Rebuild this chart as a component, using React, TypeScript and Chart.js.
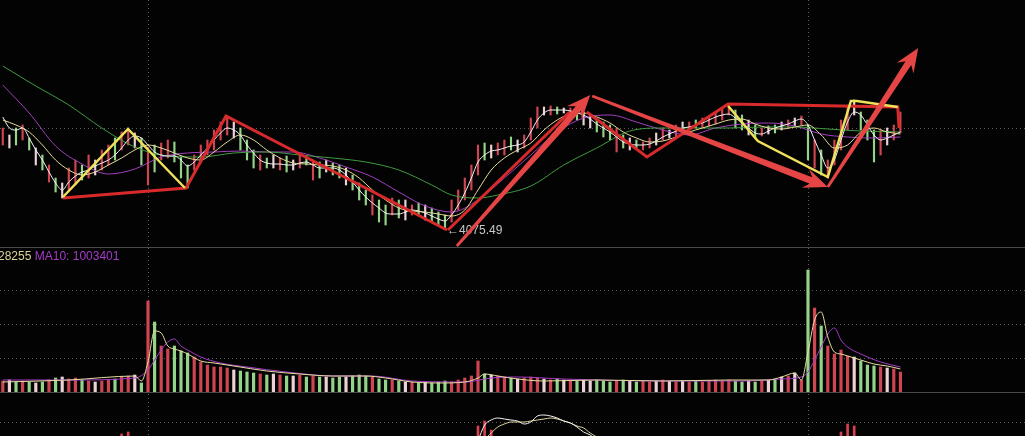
import React, { useEffect, useRef } from "react";
import { Chart, registerables } from "chart.js";

Chart.register(...registerables);

// ---------- DATA ----------
// bar index 0..136 (one per trading day)
const colorCodes =
  "rwgrgwgrgw" + "rrgrwrrgrr" + "wgrgrrgggr" + "rrrrrwgggr" + "gwrgwrgrgw" +
  "ggwgggrggr" + "gwrgwgggrr" + "rrrgwrrgwr" + "rrwrgwrgww" + "gggrgwgrrw" +
  "rwrwrgrrrr" + "rggwgrwgwr" + "wrgrgrrrrw" + "gggrwrr";

const highs = [
  4277, 4263, 4277, 4283, 4257, 4237, 4223, 4203, 4177, 4167,
  4197, 4213, 4203, 4223, 4213, 4233, 4243, 4257, 4269, 4277,
  4267, 4257, 4239, 4243, 4247, 4253, 4249, 4219, 4203, 4223,
  4243, 4253, 4273, 4289, 4297, 4289, 4277, 4253, 4233, 4223,
  4217, 4223, 4217, 4221, 4213, 4223, 4221, 4213, 4209, 4213,
  4207, 4203, 4197, 4183, 4167, 4153, 4143, 4133, 4123, 4137,
  4133, 4133, 4123, 4127, 4123, 4117, 4109, 4103, 4133, 4153,
  4177, 4203, 4243, 4247, 4243, 4247, 4253, 4259, 4253, 4263,
  4297, 4319, 4319, 4321, 4319, 4317, 4317, 4313, 4309, 4303,
  4293, 4289, 4283, 4277, 4263, 4257, 4253, 4249, 4257, 4267,
  4277, 4273, 4283, 4289, 4289, 4293, 4297, 4301, 4309, 4317,
  4321, 4313, 4303, 4293, 4283, 4277, 4281, 4283, 4289, 4293,
  4297, 4301, 4283, 4253, 4233, 4213, 4253, 4293, 4323, 4333,
  4309, 4293, 4273, 4273, 4277, 4283, 4309,
];

const lows = [
  4243, 4237, 4243, 4253, 4233, 4203, 4193, 4169, 4149, 4137,
  4153, 4163, 4173, 4177, 4183, 4193, 4203, 4213, 4233, 4243,
  4237, 4203, 4163, 4189, 4213, 4217, 4209, 4177, 4157, 4193,
  4209, 4223, 4233, 4253, 4263, 4257, 4233, 4213, 4197, 4193,
  4197, 4197, 4193, 4189, 4193, 4197, 4203, 4173, 4177, 4189,
  4183, 4177, 4163, 4153, 4133, 4123, 4103, 4089, 4083, 4103,
  4097, 4093, 4103, 4103, 4093, 4089, 4083, 4075.49, 4089, 4113,
  4133, 4153, 4183, 4213, 4217, 4223, 4223, 4233, 4229, 4237,
  4253, 4277, 4303, 4303, 4305, 4307, 4303, 4293, 4283, 4277,
  4269, 4259, 4253, 4229, 4237, 4233, 4237, 4233, 4237, 4243,
  4253, 4257, 4259, 4273, 4273, 4277, 4277, 4281, 4285, 4293,
  4303, 4277, 4273, 4263, 4257, 4261, 4265, 4267, 4273, 4277,
  4281, 4283, 4213, 4197, 4183, 4177, 4203, 4233, 4273, 4303,
  4273, 4253, 4209, 4223, 4243, 4253, 4267,
];

const ma5 = [
  4299, 4277, 4273, 4277, 4257, 4233, 4213, 4189, 4167, 4153,
  4169, 4181, 4189, 4193, 4201, 4207, 4213, 4223, 4237, 4253,
  4261, 4257, 4243, 4229, 4223, 4221, 4221, 4213, 4201, 4209,
  4223, 4237, 4253, 4267, 4277, 4273, 4263, 4243, 4227, 4213,
  4207, 4205, 4205, 4203, 4203, 4207, 4209, 4203, 4197, 4197,
  4197, 4193, 4183, 4169, 4153, 4139, 4127, 4117, 4107, 4105,
  4105, 4109, 4113, 4111, 4107, 4101, 4095, 4091, 4103, 4123,
  4147, 4177, 4209, 4223, 4231, 4233, 4237, 4241, 4243, 4249,
  4269, 4293, 4307, 4313, 4313, 4313, 4311, 4307, 4303, 4295,
  4285, 4277, 4269, 4259, 4249, 4245, 4243, 4243, 4245, 4251,
  4259, 4265, 4271, 4277, 4279, 4283, 4287, 4293, 4299, 4303,
  4305, 4297, 4287, 4277, 4267, 4265, 4271, 4277, 4281, 4285,
  4291, 4295, 4283, 4253, 4223, 4197, 4213, 4253, 4289, 4309,
  4303, 4283, 4263, 4253, 4257, 4263, 4269,
];

type Pt = [number, number];

const ma10: Pt[] = [
  [0, 4293], [2, 4283], [4, 4269], [6, 4243], [8, 4213], [10, 4193], [12, 4183], [14, 4189],
  [16, 4203], [18, 4217], [20, 4233], [22, 4243], [24, 4237], [26, 4227], [28, 4217], [30, 4213],
  [32, 4229], [34, 4249], [36, 4263], [38, 4253], [40, 4233], [42, 4217], [44, 4207], [46, 4205],
  [48, 4203], [50, 4201], [52, 4193], [54, 4177], [56, 4153], [58, 4133], [60, 4117], [62, 4111],
  [64, 4109], [66, 4105], [68, 4101], [70, 4113], [72, 4153], [74, 4193], [76, 4217], [78, 4233],
  [80, 4247], [82, 4273], [84, 4293], [86, 4305], [88, 4307], [90, 4299], [92, 4287], [94, 4269],
  [96, 4257], [98, 4249], [100, 4251], [102, 4259], [104, 4269], [106, 4277], [108, 4285], [110, 4293],
  [112, 4295], [114, 4285], [116, 4277], [118, 4275], [120, 4279], [122, 4283], [124, 4263], [126, 4237],
  [128, 4243], [130, 4269], [132, 4277], [134, 4269], [136, 4265],
];

const ma20: Pt[] = [
  [0, 4363], [4, 4307], [8, 4241], [12, 4205], [16, 4185], [20, 4195], [24, 4219], [28, 4227],
  [32, 4229], [36, 4231], [40, 4229], [44, 4229], [48, 4217], [52, 4199], [56, 4179], [60, 4149],
  [64, 4121], [68, 4109], [72, 4133], [76, 4177], [80, 4223], [84, 4269], [88, 4297], [92, 4303],
  [96, 4289], [100, 4273], [104, 4263], [108, 4277], [112, 4285], [116, 4287], [120, 4281], [124, 4265],
  [128, 4259], [132, 4257], [136, 4259],
];

const ma60: Pt[] = [
  [0, 4401], [5, 4361], [10, 4323], [15, 4277], [20, 4239], [25, 4221], [30, 4219], [35, 4227],
  [40, 4229], [45, 4223], [50, 4217], [55, 4209], [60, 4193], [65, 4163], [68, 4143], [72, 4137],
  [75, 4143], [80, 4161], [85, 4203], [90, 4237], [95, 4271], [100, 4277], [105, 4277], [110, 4277],
  [115, 4279], [120, 4279], [125, 4275], [130, 4271], [136, 4269],
];

// hand-drawn trend lines (index, price)
const redLineA: Pt[] = [[9.12, 4137], [27.76, 4157], [33.82, 4301], [67.3, 4073]];
const redLineB: Pt[] = [[67.45, 4073], [85.9, 4309]];
const redLineC: Pt[] = [[88.5, 4309], [97.6, 4219], [109.9, 4325], [135.6, 4319], [135.8, 4277]];
const yellowLine1: Pt[] = [[9.12, 4139], [18.97, 4275], [27.6, 4157]];
const yellowLine2: Pt[] = [[109.9, 4321], [114.4, 4251], [125.0, 4179], [128.5, 4331], [129.4, 4331], [135.6, 4319]];

const arrowFrom: Pt[] = [[68.8, 4041], [89.3, 4341], [125.0, 4159]];
const arrowTo: Pt[] = [[89.0, 4343], [125.0, 4159], [138.7, 4437]];

const lowLabel = "4075.49";

// volume, unit: 10k
const volumes = [
  44, 48, 40, 44, 40, 36, 40, 48, 56, 60,
  52, 56, 48, 44, 40, 44, 48, 52, 60, 64,
  68, 36, 364, 280, 184, 172, 184, 164, 156, 140,
  120, 108, 100, 100, 96, 88, 84, 80, 76, 72,
  68, 72, 68, 64, 64, 68, 60, 64, 60, 60,
  56, 60, 60, 64, 68, 64, 60, 52, 48, 48,
  44, 40, 40, 36, 40, 36, 40, 44, 40, 48,
  56, 64, 124, 72, 68, 64, 60, 56, 52, 56,
  60, 56, 52, 48, 52, 48, 48, 44, 48, 44,
  48, 44, 40, 44, 48, 44, 40, 44, 40, 44,
  48, 44, 40, 44, 40, 44, 40, 44, 48, 44,
  48, 44, 40, 44, 40, 44, 48, 52, 60, 64,
  76, 48, 488, 336, 264, 184, 152, 168, 144, 140,
  124, 108, 104, 100, 96, 92, 80,
];

const volMa5: Pt[] = [
  [0, 40], [10, 48], [20, 64], [21, 44], [22, 120], [23, 244], [24, 236], [25, 184], [26, 172],
  [27, 164], [28, 152], [30, 124], [32, 116], [35, 104], [40, 84], [45, 72], [50, 64], [55, 64],
  [58, 56], [62, 40], [66, 36], [70, 40], [72, 56], [73, 72], [75, 64], [78, 52], [82, 44],
  [90, 48], [100, 44], [110, 48], [116, 48], [118, 60], [120, 76], [121, 48], [122, 160],
  [123, 288], [124, 320], [125, 220], [126, 160], [127, 152], [128, 144], [130, 128], [132, 112],
  [134, 104], [136, 92],
];

const volMa10: Pt[] = [
  [0, 48], [10, 48], [20, 56], [22, 88], [23, 128], [24, 168], [25, 200], [26, 212], [27, 184],
  [28, 168], [30, 140], [33, 116], [37, 100], [43, 80], [50, 64], [56, 64], [62, 44], [70, 40],
  [74, 56], [78, 60], [85, 52], [100, 44], [112, 44], [118, 52], [121, 60], [122, 80], [123, 128],
  [124, 180], [125, 232], [126, 256], [127, 208], [128, 180], [130, 152], [133, 120], [136, 100],
];

// lower indicator panel
const subK: Pt[] = [
  [60, 32], [70, 47], [72, 62], [73, 77], [74, 82], [75, 84], [76, 83], [77, 82], [78, 81],
  [79, 78], [80, 80], [81, 86], [82, 87], [83, 86], [84, 84], [85, 81], [86, 79], [87, 75],
  [88, 70], [89, 67], [90, 62], [94, 42], [105, 32],
];
const subD: Pt[] = [
  [60, 22], [70, 32], [72, 52], [73, 62], [74, 69], [75, 75], [76, 78], [77, 80], [78, 80],
  [79, 80], [80, 81], [81, 82], [82, 83], [83, 84], [84, 83], [85, 81], [86, 79], [87, 76],
  [88, 74], [89, 69], [90, 65], [92, 57], [100, 37],
];
const subBarIdx = [18, 19, 72, 73, 74, 127, 128, 129];
const subBarVal = [68, 70, 76, 81, 72, 70, 78, 76];

const priceGrid = [4277];
const volGrid = [136, 272, 408];
const subGrid = [80];
const markerIdx = [22, 122];

// ---------- STYLE ----------
const X_MIN = -0.424;
const X_MAX = 154.88;
const PALETTE: Record<string, string> = { r: "#cf4552", g: "#94d488", w: "#ecd2d6" };
const barColors = colorCodes.split("").map((c) => PALETTE[c]);
const DOT = "#5c5c5c";
const FONT = '"Liberation Sans", Arial, sans-serif';

const toXY = (pts: Pt[]) => pts.map(([x, y]) => ({ x, y }));

function lineDs(pts: { x: number; y: number }[], color: string, width: number, order: number, smooth: boolean) {
  return {
    type: "line" as const,
    data: pts,
    borderColor: color,
    borderWidth: width,
    pointRadius: 0,
    fill: false,
    order,
    cubicInterpolationMode: smooth ? ("monotone" as const) : ("default" as const),
    tension: 0,
  };
}

function gridPlugin(hVals: number[], vVals: number[]) {
  return {
    id: "dotgrid",
    beforeDatasetsDraw(chart: any) {
      const { ctx, chartArea: a, scales } = chart;
      ctx.save();
      ctx.strokeStyle = DOT;
      ctx.lineWidth = 1;
      ctx.setLineDash([1, 3]);
      hVals.forEach((v) => {
        const y = Math.round(scales.y.getPixelForValue(v)) + 0.5;
        ctx.beginPath();
        ctx.moveTo(a.left, y);
        ctx.lineTo(a.right, y);
        ctx.stroke();
      });
      vVals.forEach((v) => {
        const x = Math.round(scales.x.getPixelForValue(v)) + 0.5;
        ctx.beginPath();
        ctx.moveTo(x, a.top);
        ctx.lineTo(x, a.bottom);
        ctx.stroke();
      });
      ctx.restore();
    },
  };
}

function drawArrow(ctx: CanvasRenderingContext2D, x1: number, y1: number, x2: number, y2: number) {
  const ang = Math.atan2(y2 - y1, x2 - x1);
  const c = Math.cos(ang);
  const s = Math.sin(ang);
  const headLen = 24;
  const headHalf = 10;
  const bx = x2 - headLen * c;
  const by = y2 - headLen * s;
  const nx = x2 - headLen * 0.75 * c;
  const ny = y2 - headLen * 0.75 * s;
  const tailHalf = 1.4;
  const neckHalf = 3.4;
  ctx.fillStyle = "#e64545";
  ctx.beginPath();
  ctx.moveTo(x1 - tailHalf * s, y1 + tailHalf * c);
  ctx.lineTo(nx - neckHalf * s, ny + neckHalf * c);
  ctx.lineTo(bx - headHalf * s, by + headHalf * c);
  ctx.lineTo(x2, y2);
  ctx.lineTo(bx + headHalf * s, by - headHalf * c);
  ctx.lineTo(nx + neckHalf * s, ny - neckHalf * c);
  ctx.lineTo(x1 + tailHalf * s, y1 - tailHalf * c);
  ctx.closePath();
  ctx.fill();
}

const overlayPlugin = {
  id: "overlay",
  afterDatasetsDraw(chart: any) {
    const { ctx, scales } = chart;
    const xs = scales.x;
    const ys = scales.y;
    ctx.save();
    // low price label
    let lowIdx = 0;
    lows.forEach((v, i) => {
      if (v < lows[lowIdx]) lowIdx = i;
    });
    const px = xs.getPixelForValue(lowIdx);
    const py = ys.getPixelForValue(lows[lowIdx]);
    ctx.font = `12px ${FONT}`;
    ctx.fillStyle = "#c8c8c8";
    ctx.textBaseline = "middle";
    ctx.textAlign = "left";
    ctx.fillText("\u2190" + lowLabel, px + 2, py + 1.5);
    // arrows
    arrowFrom.forEach((f, k) => {
      const t = arrowTo[k];
      drawArrow(ctx, xs.getPixelForValue(f[0]), ys.getPixelForValue(f[1]), xs.getPixelForValue(t[0]), ys.getPixelForValue(t[1]));
    });
    ctx.restore();
  },
};

function baseOptions(yMin: number, yMax: number): any {
  return {
    responsive: false,
    maintainAspectRatio: false,
    animation: false,
    events: [],
    layout: { padding: 0 },
    plugins: { legend: { display: false }, tooltip: { enabled: false }, title: { display: false } },
    scales: {
      x: { type: "linear", min: X_MIN, max: X_MAX, display: false, offset: false, bounds: "data" },
      y: { type: "linear", min: yMin, max: yMax, display: false, beginAtZero: false, bounds: "data" },
    },
  };
}

export default function App() {
  const priceRef = useRef<HTMLCanvasElement>(null);
  const volRef = useRef<HTMLCanvasElement>(null);
  const subRef = useRef<HTMLCanvasElement>(null);

  useEffect(() => {
    const idx = highs.map((_, i) => i);

    const price = new Chart(priceRef.current as HTMLCanvasElement, {
      type: "bar",
      data: {
        datasets: [
          {
            type: "bar",
            data: idx.map((i) => ({ x: i, y: [lows[i], highs[i]] })) as any,
            backgroundColor: barColors,
            borderWidth: 0,
            barThickness: 1.5,
            grouped: false,
            order: 5,
          } as any,
          lineDs(toXY(ma60), "#3f9c3f", 1, 4, true),
          lineDs(toXY(ma20), "#a23fc0", 1, 4, true),
          lineDs(toXY(ma10), "#e6dc9a", 1, 3, true),
          lineDs(idx.map((i) => ({ x: i, y: ma5[i] })), "#f4f4f4", 1, 3, true),
          lineDs(toXY(redLineA), "#d82a2a", 3, 1, false),
          lineDs(toXY(redLineB), "#d82a2a", 3, 1, false),
          lineDs(toXY(redLineC), "#d82a2a", 3, 1, false),
          lineDs(toXY(yellowLine1), "#efe25a", 2.5, 0, false),
          lineDs(toXY(yellowLine2), "#efe25a", 2.5, 0, false),
        ] as any,
      },
      options: baseOptions(4039, 4533),
      plugins: [gridPlugin(priceGrid, markerIdx), overlayPlugin],
    });

    const vol = new Chart(volRef.current as HTMLCanvasElement, {
      type: "bar",
      data: {
        datasets: [
          {
            type: "bar",
            data: idx.map((i) => ({ x: i, y: volumes[i] })) as any,
            backgroundColor: barColors,
            borderWidth: 0,
            barThickness: 2.5,
            grouped: false,
            order: 5,
          } as any,
          lineDs(toXY(volMa10), "#a53cc8", 1, 1, true),
          lineDs(toXY(volMa5), "#e6dfa0", 1, 0, true),
        ] as any,
      },
      options: baseOptions(0, 576),
      plugins: [gridPlugin(volGrid, markerIdx)],
    });

    const sub = new Chart(subRef.current as HTMLCanvasElement, {
      type: "bar",
      data: {
        datasets: [
          {
            type: "bar",
            data: subBarIdx.map((x, k) => ({ x, y: subBarVal[k] })) as any,
            backgroundColor: "#d8404f",
            borderWidth: 0,
            barThickness: 2,
            grouped: false,
            order: 5,
          } as any,
          lineDs(toXY(subD), "#e0d8a0", 1, 1, true),
          lineDs(toXY(subK), "#f4f4f4", 1, 0, true),
        ] as any,
      },
      options: baseOptions(66, 108),
      plugins: [gridPlugin(subGrid, markerIdx)],
    });

    return () => {
      price.destroy();
      vol.destroy();
      sub.destroy();
    };
  }, []);

  const abs = (top: number): React.CSSProperties => ({ position: "absolute", left: 0, top });

  return (
    <div
      style={{
        position: "fixed",
        left: 0,
        top: 0,
        width: 1025,
        height: 436,
        background: "#030303",
        overflow: "hidden",
      }}
    >
      <canvas ref={priceRef} width={1025} height={247} style={abs(0)} />
      <div style={{ ...abs(247), width: 1025, height: 1, background: "#4a4a4a" }} />
      <canvas ref={volRef} width={1025} height={144} style={abs(248)} />
      <div style={{ ...abs(392), width: 1025, height: 1, background: "#4a4a4a" }} />
      <canvas ref={subRef} width={1025} height={42} style={abs(394)} />
      <div
        style={{
          position: "absolute",
          left: -2,
          top: 249,
          font: `12px ${FONT}`,
          lineHeight: "14px",
          whiteSpace: "nowrap",
        }}
      >
        <span style={{ color: "#dcd49a" }}>28255</span>{" "}
        <span style={{ color: "#a53cc8" }}>MA10: 1003401</span>
      </div>
    </div>
  );
}
